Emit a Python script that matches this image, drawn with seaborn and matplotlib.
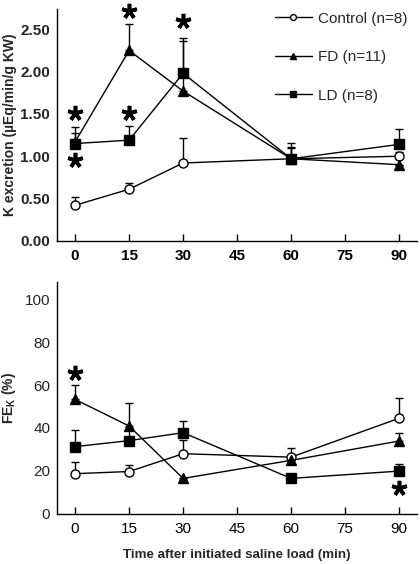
import numpy as np
import pandas as pd
import seaborn as sns
import matplotlib.pyplot as plt

# time points (min)
time = [0, 15, 30, 60, 90]

# K excretion (uEq/min/g KW): mean and top of SE bar
k_control = [0.42, 0.61, 0.92, 0.97, 1.00]
k_control_err = [0.52, 0.68, 1.21, 1.10, 1.05]
k_fd = [1.17, 2.25, 1.77, 0.97, 0.90]
k_fd_err = [1.34, 2.56, 2.36, 1.16, 0.90]
k_ld = [1.15, 1.19, 1.98, 0.97, 1.14]
k_ld_err = [1.28, 1.36, 2.40, 1.11, 1.32]

# FE_K (%)
fe_control = [18.7, 19.7, 28.0, 26.4, 44.5]
fe_control_err = [24.1, 22.9, 34.2, 30.8, 53.8]
fe_fd = [53.3, 40.9, 16.5, 24.9, 33.9]
fe_fd_err = [59.9, 51.5, 16.5, 24.9, 37.5]
fe_ld = [31.3, 34.1, 37.8, 16.5, 19.9]
fe_ld_err = [38.9, 40.0, 43.4, 16.5, 23.3]

# significance stars (x, y)
k_stars_x = [0, 0, 15, 15, 30]
k_stars_y = [1.51, 0.95, 2.72, 1.51, 2.60]
fe_stars_x = [0, 90]
fe_stars_y = [65.5, 11.8]

groups = ["Control (n=8)", "FD (n=11)", "LD (n=8)"]
markers = {"Control (n=8)": "o", "FD (n=11)": "^", "LD (n=8)": "s"}
faces = {"Control (n=8)": "white", "FD (n=11)": "black", "LD (n=8)": "black"}

sns.set_theme(style="ticks")
plt.rcParams['font.family'] = ['Liberation Sans', 'DejaVu Sans']
plt.rcParams['mathtext.fontset'] = 'custom'
plt.rcParams['mathtext.bf'] = 'Liberation Sans:bold'
plt.rcParams['mathtext.rm'] = 'Liberation Sans'

fig = plt.figure(figsize=(4.2, 5.64), dpi=100)
ax1 = fig.add_axes([0.136, 0.573, 0.857, 0.411])
ax2 = fig.add_axes([0.136, 0.089, 0.857, 0.411])


def draw_panel(ax, means, tops):
    handles = []
    for g, m, t in zip(groups, means, tops):
        df = pd.DataFrame({"time": time, "value": m})
        low = np.zeros(len(m))
        up = np.array(t) - np.array(m)
        ax.errorbar(time, m, yerr=[low, up], fmt="none", ecolor="black",
                    elinewidth=1.0, capsize=3, capthick=1.0, zorder=2)
        sns.lineplot(data=df, x="time", y="value", ax=ax, color="black",
                     linewidth=1.0, marker=markers[g], markersize=6.5,
                     markerfacecolor=faces[g], markeredgecolor="black",
                     markeredgewidth=1.0, zorder=3)
        handles.append(ax.lines[-1])
    ax.set_xlim(-5, 95)
    ax.set_xticks([0, 15, 30, 45, 60, 75, 90])
    ax.tick_params(axis="x", direction="in", length=5, width=1, colors="black",
                   labelsize=11, pad=6)
    ax.tick_params(axis="y", length=0, labelsize=11, pad=5)
    for s in ["top", "right"]:
        ax.spines[s].set_visible(False)
    for s in ["left", "bottom"]:
        ax.spines[s].set_linewidth(1.0)
        ax.spines[s].set_color("black")
    ax.set_xlabel("")
    return handles


def draw_stars(ax, xs, ys):
    ax.plot(xs, ys, linestyle="none", marker=(5, 2, 0), markersize=11,
            markeredgewidth=2.6, color="black", clip_on=False, zorder=4)


h = draw_panel(ax1, [k_control, k_fd, k_ld], [k_control_err, k_fd_err, k_ld_err])
ax1.set_ylim(0, 2.74)
ax1.set_yticks([0, 0.5, 1.0, 1.5, 2.0, 2.5])
ax1.set_yticklabels([f"{v:.2f}" for v in [0, 0.5, 1.0, 1.5, 2.0, 2.5]])
for lab in ax1.get_xticklabels() + ax1.get_yticklabels():
    lab.set_fontweight("bold")
ax1.set_ylabel("K excretion (µEq/min/g KW)", fontsize=10, fontweight="bold")
ax1.yaxis.set_label_coords(-0.112, 0.5)
draw_stars(ax1, k_stars_x, k_stars_y)

leg = ax1.legend(h, groups, loc="upper right", bbox_to_anchor=(415 / 420, 1 - 4 / 564),
                 bbox_transform=fig.transFigure, frameon=False, fontsize=11,
                 handlelength=2.4, handletextpad=0.4, labelspacing=1.6, borderpad=0,
                 markerscale=0.65)

draw_panel(ax2, [fe_control, fe_fd, fe_ld], [fe_control_err, fe_fd_err, fe_ld_err])
ax2.set_ylim(0, 108)
ax2.set_yticks([0, 20, 40, 60, 80, 100])
ax2.set_ylabel(r"FE$_\mathbf{K}$ (%)", fontsize=10, fontweight="bold")
ax2.yaxis.set_label_coords(-0.108, 0.5)
ax2.set_xlabel("Time after initiated saline load (min)", fontsize=9.6,
               fontweight="bold")
ax2.xaxis.set_label_coords(0.5, -0.15)
draw_stars(ax2, fe_stars_x, fe_stars_y)

fig.savefig("out.png", dpi=100)
